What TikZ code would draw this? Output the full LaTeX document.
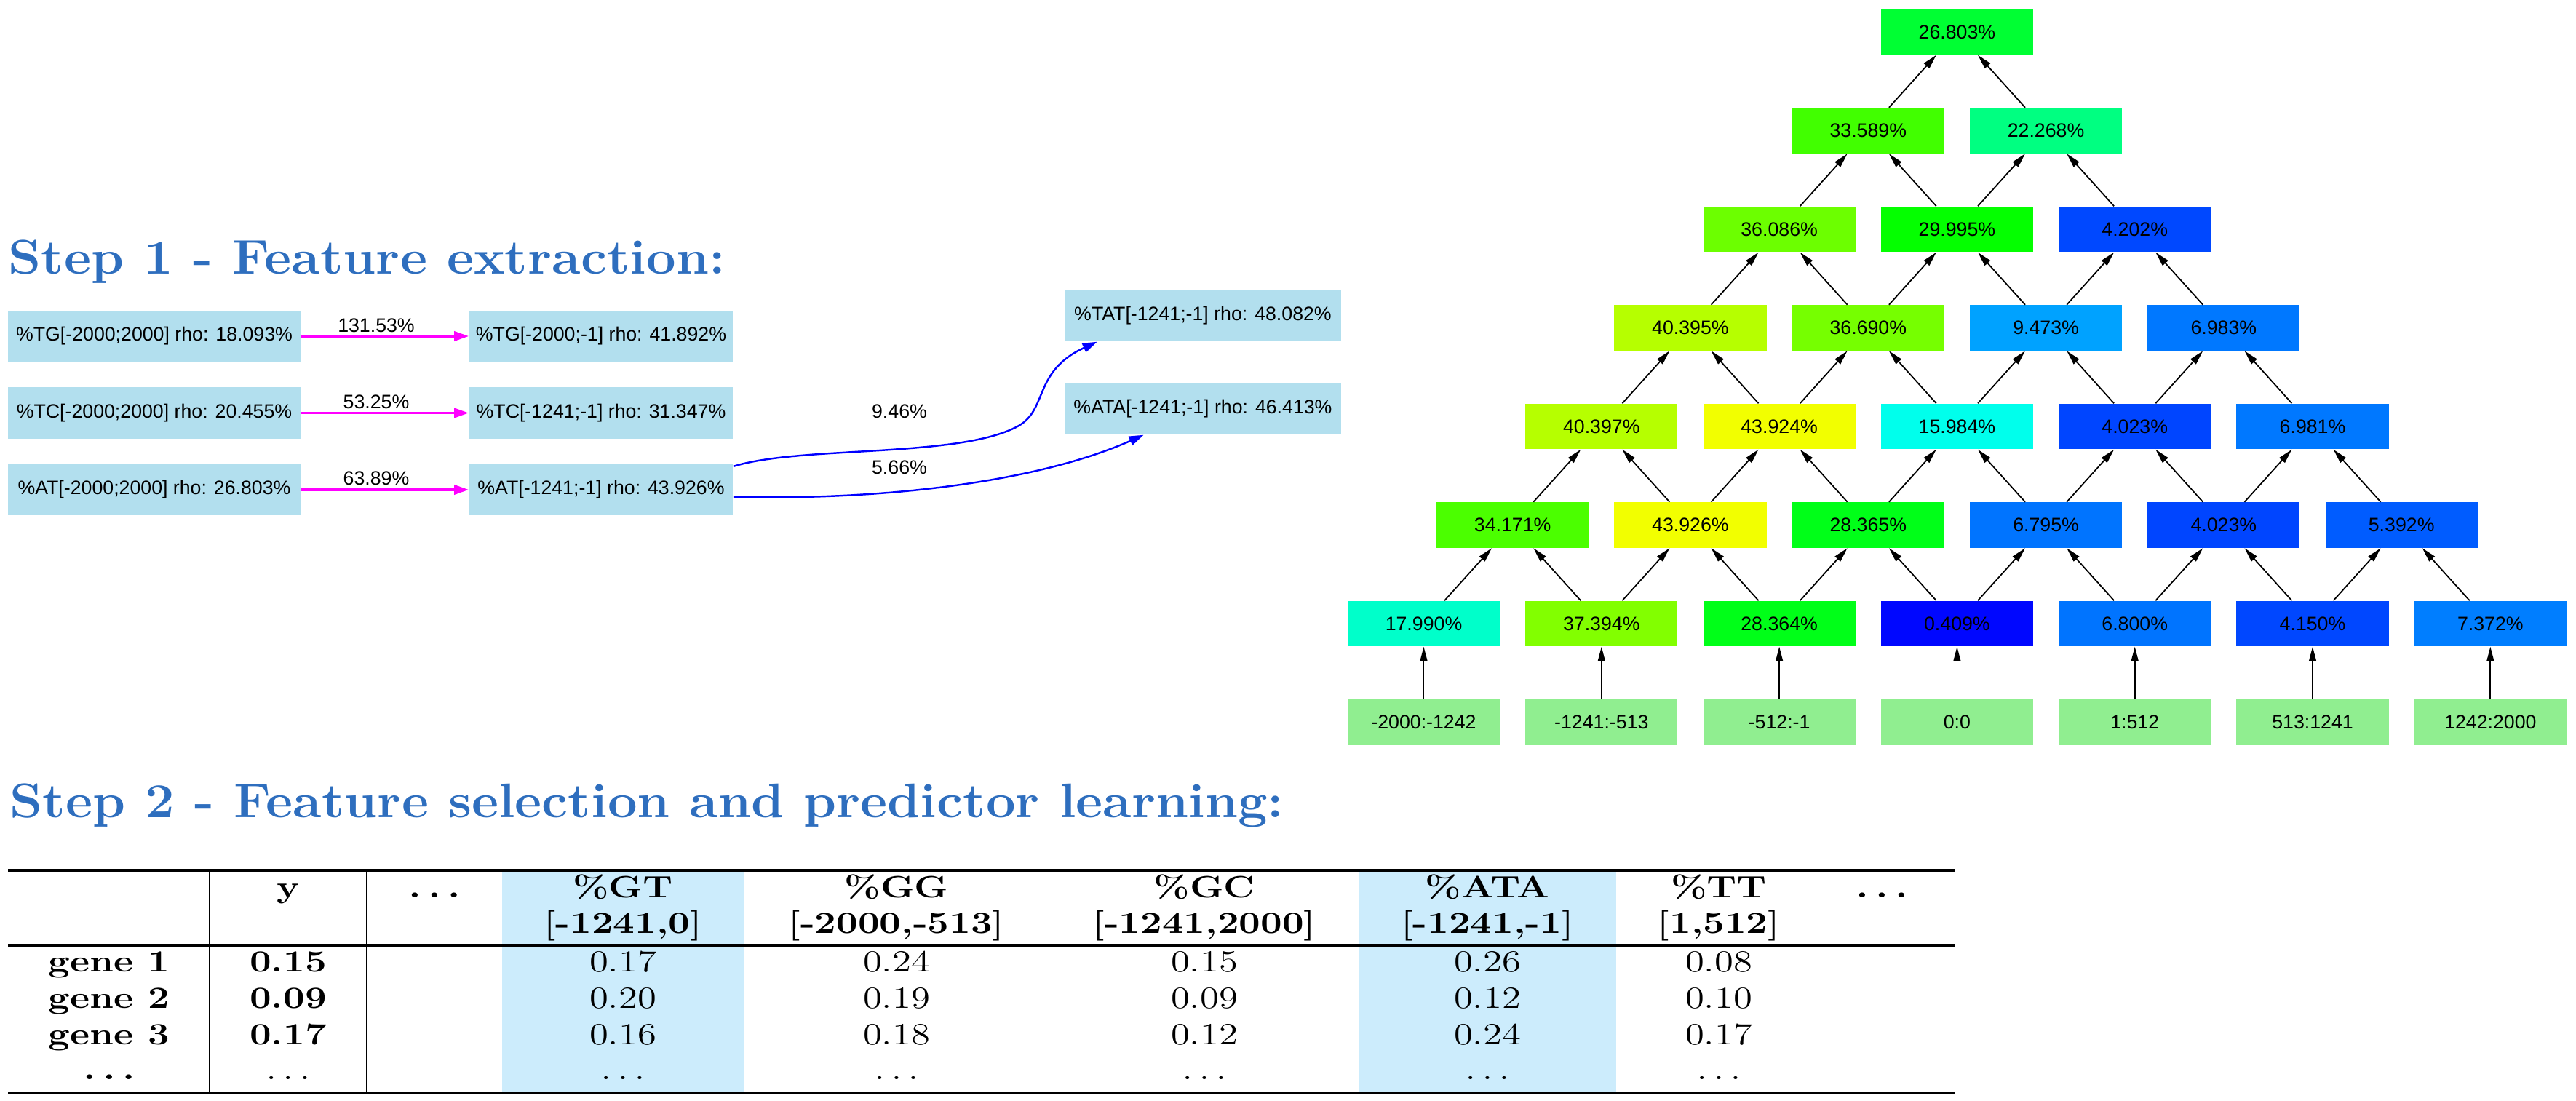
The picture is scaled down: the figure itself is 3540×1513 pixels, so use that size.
\documentclass[tikz,border=0pt]{standalone}
\usepackage{fontspec}
\usepackage{graphicx}
\usetikzlibrary{arrows.meta}
\newfontfamily\gvfont{Liberation Sans}
\definecolor{titleblue}{RGB}{46,110,190}
\definecolor{boxblue}{RGB}{178,223,238}
\definecolor{leafgreen}{RGB}{144,238,144}
\definecolor{colhl}{RGB}{204,236,252}
\definecolor{gvmagenta}{RGB}{255,0,255}
\definecolor{gvblue}{RGB}{0,0,255}
\newcommand\hs[1]{\scalebox{1.25}[1]{#1}}
\newcommand\ts[1]{\scalebox{1.08}[1]{#1}}
\newcommand\tcellat[4]{\node[tcell] (#1) at (#2,#3) {\hs{#4}};}
\newcommand\tcellbf[4]{\node[tcell] (#1) at (#2,#3) {\hs{\bfseries\boldmath #4}};}
\begin{document}
\begin{tikzpicture}[x=0.01cm,y=-0.01cm,
  gvtext/.style={font=\gvfont\fontsize{7.6pt}{9pt}\selectfont, inner sep=0pt},
  featbox/.style={gvtext, fill=boxblue, minimum height=0.70cm},
  pbox/.style={gvtext, minimum width=2.09cm, minimum height=0.62cm},
  magarrow/.style={draw=gvmagenta, line width=1pt, -{Triangle[length=0.2cm,width=0.13cm]}},
  bluearrow/.style={draw=gvblue, line width=0.7pt, -{Triangle[length=0.2cm,width=0.13cm]}},
  pedge/.style={draw=black, line width=0.5pt, -{Triangle[length=0.2cm,width=0.1cm]}},
  edgelab/.style={gvtext},
  steptitle/.style={font=\fontsize{19pt}{23pt}\selectfont\bfseries, text=titleblue, anchor=base west, inner sep=0pt},
  tcell/.style={font=\fontsize{12pt}{14pt}\selectfont, anchor=base, inner sep=0pt},
]
\useasboundingbox (0,0) rectangle (3540,1513);

% ---------- Step 1 ----------
\node[steptitle] (t1) at (11,377) {\ts{Step 1 - Feature extraction:}};

\node[featbox, minimum width=4.02cm] (tg1) at (212,462) {\%TG[-2000;2000] rho: 18.093\%};
\node[featbox, minimum width=3.62cm] (tg2) at (826,462) {\%TG[-2000;-1] rho: 41.892\%};
\node[featbox, minimum width=4.02cm] (tc1) at (212,567.5) {\%TC[-2000;2000] rho: 20.455\%};
\node[featbox, minimum width=3.62cm] (tc2) at (826,567.5) {\%TC[-1241;-1] rho: 31.347\%};
\node[featbox, minimum width=4.02cm] (at1) at (212,673) {\%AT[-2000;2000] rho: 26.803\%};
\node[featbox, minimum width=3.62cm] (at2) at (826,673) {\%AT[-1241;-1] rho: 43.926\%};
\node[featbox, minimum width=3.8cm, minimum height=0.71cm] (tat) at (1653,433.5) {\%TAT[-1241;-1] rho: 48.082\%};
\node[featbox, minimum width=3.8cm, minimum height=0.71cm] (ata) at (1653,561.5) {\%ATA[-1241;-1] rho: 46.413\%};

\draw[magarrow] (tg1) -- (tg2);
\draw[magarrow] (tc1) -- (tc2);
\draw[magarrow] (at1) -- (at2);
\node[edgelab] (l1) at (517,447) {131.53\%};
\node[edgelab] (l2) at (517,552) {53.25\%};
\node[edgelab] (l3) at (517,657) {63.89\%};

\draw[bluearrow] (at2.10) .. controls (1100,612) and (1320,630) .. (1400,585) .. controls (1440,562) and (1420,510) .. (tat.194);
\draw[bluearrow] (at2.-3) .. controls (1200,688) and (1420,665) .. (ata.204);
\node[edgelab] (l4) at (1236,565) {9.46\%};
\node[edgelab] (l5) at (1236,642) {5.66\%};

% ---------- Pyramid ----------
\foreach \k/\vals in {
  1/{17.990,37.394,28.364,0.409,6.800,4.150,7.372},
  2/{34.171,43.926,28.365,6.795,4.023,5.392},
  3/{40.397,43.924,15.984,4.023,6.981},
  4/{40.395,36.690,9.473,6.983},
  5/{36.086,29.995,4.202},
  6/{33.589,22.268},
  7/{26.803}}{
  \foreach \v [count=\i from 0] in \vals {
    \pgfmathsetmacro\hue{240-4.03*\v}
    \pgfmathsetmacro\rr{max(0,min(1,(120-\hue)/60))}
    \pgfmathsetmacro\gg{max(0,min(1,(240-\hue)/60))}
    \pgfmathsetmacro\bb{max(0,min(1,(\hue-120)/60))}
    \edef\tmpdef{\noexpand\definecolor{pc}{rgb}{\rr,\gg,\bb}}\tmpdef
    \node[pbox, fill=pc] (r\k-\i) at ({1956.5+244.3*(\i+(\k-1)/2)}, {992.5-135.5*\k}) {\v\%};
  }
}
\foreach \k in {1,...,6}{
  \pgfmathtruncatemacro\kk{\k+1}
  \pgfmathtruncatemacro\m{7-\k}
  \foreach \i in {0,...,\m}{
    \ifnum\i>0 \pgfmathtruncatemacro\j{\i-1}\draw[pedge] (r\k-\i) -- (r\kk-\j);\fi
    \ifnum\i<\m \draw[pedge] (r\k-\i) -- (r\kk-\i);\fi
  }
}
\foreach \lab [count=\i from 0] in {-2000:-1242,-1241:-513,-512:-1,0:0,1:512,513:1241,1242:2000}{
  \node[pbox, fill=leafgreen] (r0-\i) at ({1956.5+244.3*\i}, 992.5) {\lab};
  \draw[pedge] (r0-\i) -- (r1-\i);
}

% ---------- Step 2 ----------
\node[steptitle] (t2) at (13,1123) {\ts{Step 2 - Feature selection and predictor learning:}};

\fill[colhl] (690,1196) rectangle (1022,1502);
\fill[colhl] (1868,1196) rectangle (2221,1502);
\draw[line width=1.2pt] (11,1196) -- (2686,1196);
\draw[line width=0.9pt] (11,1299) -- (2686,1299);
\draw[line width=1.2pt] (11,1502) -- (2686,1502);
\draw[line width=0.6pt] (288,1196) -- (288,1502);
\draw[line width=0.6pt] (504,1196) -- (504,1502);

\tcellbf{hy}{396}{1233}{y}
\tcellbf{hd1}{597}{1233}{$\ldots$}
\tcellbf{hgt}{856}{1233}{\%GT}
\tcellbf{hgg}{1232}{1233}{\%GG}
\tcellbf{hgc}{1655}{1233}{\%GC}
\tcellbf{hata}{2044}{1233}{\%ATA}
\tcellbf{htt}{2362}{1233}{\%TT}
\tcellbf{hd2}{2586}{1233}{$\ldots$}
\tcellbf{igt}{856}{1282}{[-1241,0]}
\tcellbf{igg}{1232}{1282}{[-2000,-513]}
\tcellbf{igc}{1655}{1282}{[-1241,2000]}
\tcellbf{iata}{2044}{1282}{[-1241,-1]}
\tcellbf{itt}{2362}{1282}{[1,512]}

\foreach \r/\yy/\vy/\va/\vb/\vc/\vd/\ve in {
  1/1335/0.15/0.17/0.24/0.15/0.26/0.08,
  2/1385/0.09/0.20/0.19/0.09/0.12/0.10,
  3/1435/0.17/0.16/0.18/0.12/0.24/0.17}{
  \tcellbf{g\r-lab}{150}{\yy}{gene \r}
  \tcellbf{g\r-y}{396}{\yy}{\vy}
  \tcellat{g\r-gt}{856}{\yy}{\va}
  \tcellat{g\r-gg}{1232}{\yy}{\vb}
  \tcellat{g\r-gc}{1655}{\yy}{\vc}
  \tcellat{g\r-ata}{2044}{\yy}{\vd}
  \tcellat{g\r-tt}{2362}{\yy}{\ve}
}
\tcellbf{dlab}{150}{1483}{$\ldots$}
\tcellat{dy}{396}{1483}{$\ldots$}
\tcellat{dgt}{856}{1483}{$\ldots$}
\tcellat{dgg}{1232}{1483}{$\ldots$}
\tcellat{dgc}{1655}{1483}{$\ldots$}
\tcellat{data}{2044}{1483}{$\ldots$}
\tcellat{dtt}{2362}{1483}{$\ldots$}
\end{tikzpicture}
\end{document}
